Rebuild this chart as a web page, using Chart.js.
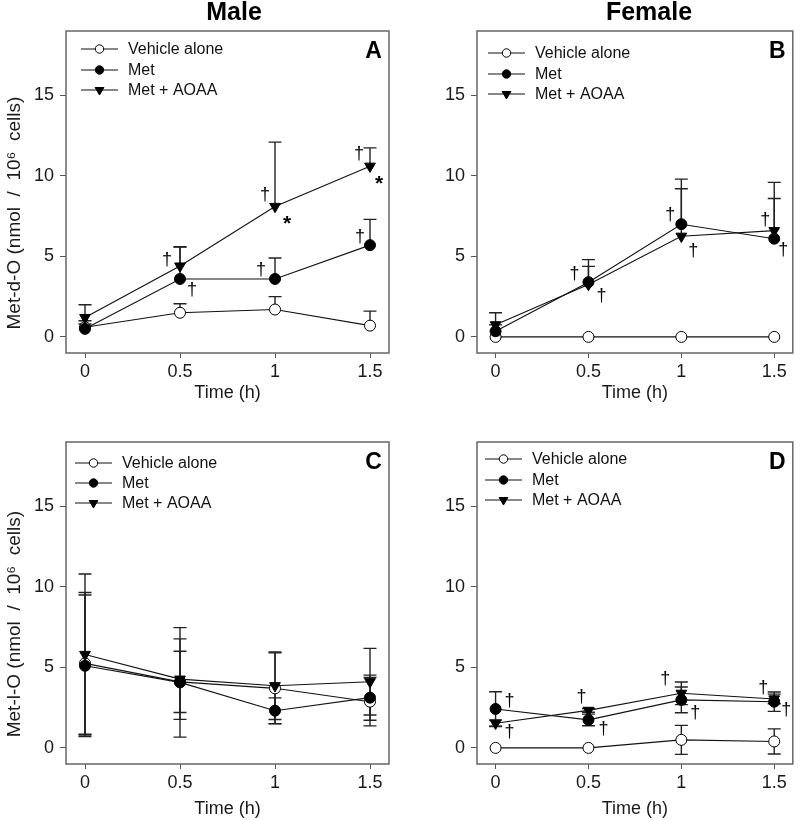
<!DOCTYPE html>
<html><head><meta charset="utf-8">
<script src="https://cdn.jsdelivr.net/npm/chart.js@4.4.1/dist/chart.umd.min.js"></script>
<style>
html,body{margin:0;padding:0;background:#fff;}
#wrap{position:relative;width:800px;height:820px;overflow:hidden;background:#fff;}
canvas{position:absolute;left:0;top:0;}
.hdr{position:absolute;top:0;font:bold 25px "Liberation Sans",Arial,sans-serif;color:#000;transform:translateX(-50%);line-height:22px;white-space:nowrap;}
</style></head><body>
<div id="wrap">
<canvas id="cA" width="800" height="820"></canvas>
<canvas id="cB" width="800" height="820"></canvas>
<canvas id="cC" width="800" height="820"></canvas>
<canvas id="cD" width="800" height="820"></canvas>
<div class="hdr" style="left:234px">Male</div>
<div class="hdr" style="left:649px">Female</div>
</div>
<script>
// ---------- data ----------
const timePoints = [0, 0.5, 1, 1.5];
const xTickValues = [0, 0.5, 1, 1.5];
const xTickLabels = ['0', '0.5', '1', '1.5'];
const yTickValues = [0, 5, 10, 15];
const yTickLabels = ['0', '5', '10', '15'];
const seriesNames = ['Vehicle alone', 'Met', 'Met + AOAA'];

// A: Met-d-O, male (mean, SD)
const maleDVehicle   = [0.6, 1.5, 1.7, 0.7];
const maleDVehicleSD = [0.4, 0.56, 0.8, 0.9];
const maleDMet       = [0.5, 3.6, 3.6, 5.7];
const maleDMetSD     = [0.3, 2.0, 1.3, 1.6];
const maleDAoaa      = [1.2, 4.4, 8.1, 10.6];
const maleDAoaaSD    = [0.8, 1.18, 4.0, 1.14];

// B: Met-d-O, female
const femaleDVehicle   = [0, 0, 0, 0];
const femaleDVehicleSD = [0, 0, 0, 0];
const femaleDMet       = [0.35, 3.4, 7.0, 6.1];
const femaleDMetSD     = [0.4, 1.4, 2.8, 2.5];
const femaleDAoaa      = [0.75, 3.25, 6.25, 6.6];
const femaleDAoaaSD    = [0.75, 1.13, 2.95, 3.0];

// C: Met-l-O, male
const maleLVehicle   = [5.25, 4.1, 3.7, 2.87];
const maleLVehicleSD = [4.4, 1.9, 2.2, 1.5];
const maleLMet       = [5.1, 4.07, 2.31, 3.12];
const maleLMetSD     = [4.4, 3.4, 0.8, 1.4];
const maleLAoaa      = [5.8, 4.27, 3.86, 4.11];
const maleLAoaaSD    = [5.0, 2.5, 2.1, 2.07];

// D: Met-l-O, female
const femaleLVehicle   = [0, 0, 0.5, 0.4];
const femaleLVehicleSD = [0, 0, 0.9, 0.78];
const femaleLMet       = [2.42, 1.74, 2.98, 2.87];
const femaleLMetSD     = [1.07, 0.36, 0.8, 0.6];
const femaleLAoaa      = [1.53, 2.33, 3.39, 3.04];
const femaleLAoaaSD    = [0.2, 0.12, 0.7, 0.3];

// significance marks: series index, time index, symbol
const marksA = [[2,1,'†'],[1,1,'†'],[1,2,'†'],[2,2,'†'],[2,2,'*'],[2,3,'†'],[2,3,'*'],[1,3,'†']];
const marksB = [[1,1,'†'],[1,1,'†'],[1,2,'†'],[2,2,'†'],[2,3,'†'],[1,3,'†']];
const marksC = [];
const marksD = [[1,0,'†'],[2,0,'†'],[2,1,'†'],[1,1,'†'],[2,2,'†'],[1,2,'†'],[2,3,'†'],[1,3,'†']];

// ---------- layout / style (not data) ----------
const markOffsetsA = [[-13,-6],[12,11],[-14,-9],[-10,-11],[12,13],[-11,-12],[9,13],[-10,-8]];
const markOffsetsB = [[-14,-8],[13,14],[-11,-9],[12,15],[-9,-11],[9,11]];
const markOffsetsD = [[14,-8],[14,9],[-7,-13],[15,9],[-16,-14],[14,13],[-11,-11],[12,8]];

const FONT = '"Liberation Sans", Arial, Helvetica, sans-serif';
Chart.defaults.font.family = FONT;
Chart.defaults.color = '#111';

function makePanel(id, p) {
  const series = p.series;
  const sds = p.sds;
  const datasets = series.map((vals, si) => ({
    label: seriesNames[si],
    data: timePoints.map((t, i) => ({x: t, y: vals[i]})),
    borderColor: '#111',
    borderWidth: 1.1,
    pointStyle: si === 2 ? 'triangle' : 'circle',
    rotation: si === 2 ? 180 : 0,
    pointRotation: si === 2 ? 180 : 0,
    pointRadius: si === 2 ? 6.2 : 5.5,
    pointBackgroundColor: si === 0 ? '#fff' : '#000',
    pointBorderColor: '#000',
    pointBorderWidth: 1,
    tension: 0,
    fill: false,
    order: 3 - si
  }));

  const panelPlugin = {
    id: 'panelDeco' + id,
    beforeDatasetsDraw(chart) {
      const {ctx, chartArea: a, scales: {x, y}} = chart;
      ctx.save();
      // frame
      ctx.strokeStyle = '#666';
      ctx.lineWidth = 1.5;
      ctx.strokeRect(a.left, a.top, a.right - a.left, a.bottom - a.top);
      // error bars
      ctx.strokeStyle = '#222';
      ctx.lineWidth = 1.4;
      const cap = 6.5;
      sds.forEach((sd, si) => {
        sd.forEach((e, i) => {
          if (!e) return;
          const v = series[si][i];
          const px = x.getPixelForValue(timePoints[i]);
          const pt = y.getPixelForValue(v + e);
          const pb = p.mode === 'both' ? y.getPixelForValue(v - e) : y.getPixelForValue(v);
          ctx.beginPath();
          ctx.moveTo(px, pt); ctx.lineTo(px, pb);
          ctx.moveTo(px - cap, pt); ctx.lineTo(px + cap, pt);
          if (p.mode === 'both') { ctx.moveTo(px - cap, pb); ctx.lineTo(px + cap, pb); }
          ctx.stroke();
        });
      });
      ctx.restore();
    },
    afterDraw(chart) {
      const {ctx, chartArea: a, scales: {x, y}} = chart;
      ctx.save();
      // legend
      const L = p.legend;
      ctx.font = '16px ' + FONT;
      ctx.textBaseline = 'middle';
      ctx.textAlign = 'left';
      seriesNames.forEach((name, si) => {
        const yy = a.top + L.rows[si];
        ctx.strokeStyle = '#111'; ctx.lineWidth = 1.1;
        ctx.beginPath(); ctx.moveTo(a.left + L.x0, yy); ctx.lineTo(a.left + L.x1, yy); ctx.stroke();
        const mx = (a.left + L.x0 + a.left + L.x1) / 2;
        ctx.fillStyle = si === 0 ? '#fff' : '#000';
        ctx.strokeStyle = '#000'; ctx.lineWidth = 1;
        ctx.beginPath();
        if (si === 2) {
          const r = 5;
          ctx.moveTo(mx - r * 0.87, yy - r * 0.5);
          ctx.lineTo(mx + r * 0.87, yy - r * 0.5);
          ctx.lineTo(mx, yy + r);
          ctx.closePath();
        } else {
          ctx.arc(mx, yy, 4.2, 0, Math.PI * 2);
        }
        ctx.fill(); ctx.stroke();
        ctx.fillStyle = '#111';
        ctx.fillText(name, a.left + L.tx, yy + 1);
      });
      // panel letter
      ctx.font = 'bold 23px ' + FONT;
      ctx.textAlign = 'center';
      ctx.fillStyle = '#000';
      ctx.fillText(p.letter, a.right - 15.5, a.top + 21);
      // significance marks
      p.marks.forEach((m, k) => {
        const [si, i, sym] = m;
        const [dx, dy] = p.markOffsets[k];
        const px = x.getPixelForValue(timePoints[i]) + dx;
        const py = y.getPixelForValue(series[si][i]) + dy;
        if (sym === '*') {
          ctx.font = 'bold 21px ' + FONT;
          ctx.fillText(sym, px, py + 5);
        } else {
          ctx.font = '18px ' + FONT;
          ctx.fillText(sym, px, py);
        }
      });
      ctx.restore();
    }
  };

  return new Chart(document.getElementById(id), {
    type: 'line',
    data: {datasets},
    plugins: [panelPlugin],
    options: {
      responsive: false,
      animation: false,
      events: [],
      devicePixelRatio: 1,
      layout: {padding: p.padding},
      plugins: {legend: {display: false}, tooltip: {enabled: false}, title: {display: false}},
      scales: {
        x: {
          type: 'linear',
          min: -0.1, max: 1.6,
          afterBuildTicks: s => { s.ticks = xTickValues.map(v => ({value: v})); },
          afterFit: s => { s.height = p.xh; },
          ticks: {
            autoSkip: false, maxRotation: 0, padding: 3,
            font: {size: 18}, color: '#1a1a1a',
            callback: v => { const k = xTickValues.indexOf(v); return k >= 0 ? xTickLabels[k] : ''; }
          },
          grid: {display: true, drawOnChartArea: false, drawTicks: true, tickLength: 5, color: '#555'},
          border: {display: false},
          title: {display: true, text: 'Time (h)', font: {size: 18}, color: '#1a1a1a', padding: {top: 0, bottom: p.xTitlePad}}
        },
        y: {
          type: 'linear',
          min: -1, max: 19,
          afterBuildTicks: s => { s.ticks = yTickValues.map(v => ({value: v})); },
          afterFit: s => { s.width = 66; },
          ticks: {
            padding: 6, font: {size: 18}, color: '#1a1a1a',
            callback: v => { const k = yTickValues.indexOf(v); return k >= 0 ? yTickLabels[k] : ''; }
          },
          grid: {display: true, drawOnChartArea: false, drawTicks: true, tickLength: 6, color: '#555'},
          border: {display: false},
          title: {display: !!p.yTitle, text: p.yTitle || '', font: {size: 19}, color: '#1a1a1a', padding: {top: 3, bottom: 0}}
        }
      }
    }
  });
}

const ySpacer = '        ';
makePanel('cA', {
  series: [maleDVehicle, maleDMet, maleDAoaa],
  sds: [maleDVehicleSD, maleDMetSD, maleDAoaaSD],
  mode: 'up', letter: 'A', marks: marksA, markOffsets: markOffsetsA,
  legend: {x0: 15, x1: 52, tx: 62, rows: [18, 39, 59]},
  padding: {left: 0, right: 411, top: 31, bottom: 407}, xh: 60, xTitlePad: 9,
  yTitle: 'Met-d-O (nmol  /  10⁶  cells)' + ySpacer
});
makePanel('cB', {
  series: [femaleDVehicle, femaleDMet, femaleDAoaa],
  sds: [femaleDVehicleSD, femaleDMetSD, femaleDAoaaSD],
  mode: 'up', letter: 'B', marks: marksB, markOffsets: markOffsetsB,
  legend: {x0: 11, x1: 48, tx: 58, rows: [22, 43, 63]},
  padding: {left: 411, right: 2, top: 31, bottom: 407}, xh: 60, xTitlePad: 9,
  yTitle: ''
});
makePanel('cC', {
  series: [maleLVehicle, maleLMet, maleLAoaa],
  sds: [maleLVehicleSD, maleLMetSD, maleLAoaaSD],
  mode: 'both', letter: 'C', marks: marksC, markOffsets: [],
  legend: {x0: 9, x1: 46, tx: 56, rows: [21, 41, 61]},
  padding: {left: 0, right: 411, top: 442, bottom: 0}, xh: 56, xTitlePad: 0,
  yTitle: 'Met-l-O (nmol  /  10⁶  cells)' + ySpacer
});
makePanel('cD', {
  series: [femaleLVehicle, femaleLMet, femaleLAoaa],
  sds: [femaleLVehicleSD, femaleLMetSD, femaleLAoaaSD],
  mode: 'both', letter: 'D', marks: marksD, markOffsets: markOffsetsD,
  legend: {x0: 8, x1: 45, tx: 55, rows: [17, 38, 58]},
  padding: {left: 411, right: 2, top: 442, bottom: 0}, xh: 56, xTitlePad: 0,
  yTitle: ''
});
</script>
</body></html>
